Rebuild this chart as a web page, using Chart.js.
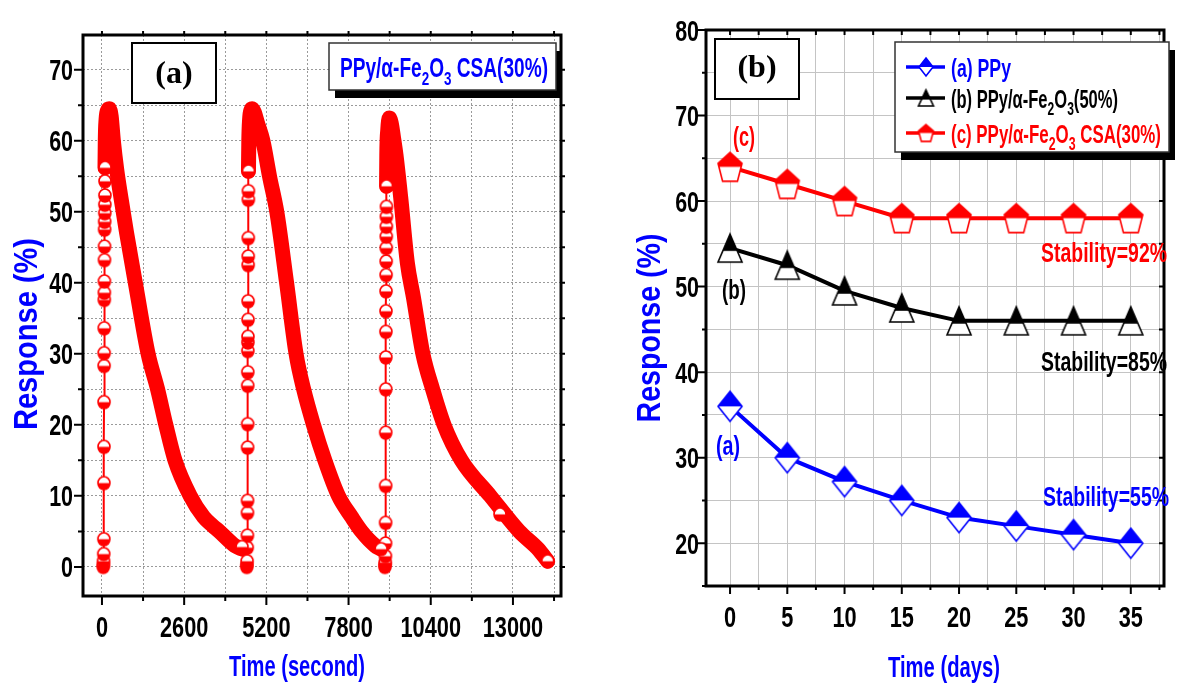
<!DOCTYPE html>
<html>
<head>
<meta charset="utf-8">
<script src="https://cdn.jsdelivr.net/npm/chart.js@4.4.0/dist/chart.umd.min.js"></script>
<style>
  html, body { margin: 0; padding: 0; background: #fff; }
  #wrap { position: relative; width: 1180px; height: 683px; }
  .panel { position: absolute; top: 0; width: 590px; height: 683px; }
</style>
</head>
<body>
<div id="wrap">
  <div class="panel" style="left:0"><canvas id="chartA"></canvas></div>
  <div class="panel" style="left:590px"><canvas id="chartB"></canvas></div>
</div>
<script>
// ---- panel (a): response vs time (second), three cycles ----
// rising edge of each cycle (single markers on a thin line)
const riseTime1 = [40, 45, 50, 55, 60, 62, 64, 66, 68, 70, 72, 74, 76, 78, 80, 82, 84, 86, 88, 90, 92, 94, 96];
const riseResp1 = [0, 0.3, 0.8, 1.8, 3.9, 11.8, 16.9, 23.2, 28.3, 30.1, 33.6, 37.6, 38.6, 40.2, 43.2, 45.1, 47.5, 48.6, 49.8, 51.0, 52.3, 54.3, 56.2];
const riseTime2 = [4580, 4585, 4590, 4595, 4600, 4602, 4604, 4606, 4608, 4610, 4612, 4614, 4616, 4618, 4620, 4622, 4624, 4626, 4628, 4630, 4632, 4634];
const riseResp2 = [0, 0.3, 0.8, 2.7, 4.4, 7.6, 9.3, 16.8, 20.1, 25.5, 27.4, 30.4, 31.6, 32.4, 34.8, 37.4, 42.5, 43.7, 46.3, 51.7, 52.9, 55.7];
const riseTime3 = [8950, 8955, 8960, 8965, 8970, 8972, 8974, 8976, 8978, 8980, 8982, 8984, 8986, 8988, 8990, 8992, 8994, 8996, 8998, 9000, 9002];
const riseResp3 = [0, 0.3, 0.6, 1.5, 3.3, 6.2, 11.4, 18.9, 25.0, 29.5, 33.1, 36.0, 38.8, 41.1, 43.0, 44.9, 46.5, 47.9, 49.3, 50.7, 53.6];

// peak + recovery of each cycle (dense points, drawn as a thick band)
const decayTime1 = [96, 105, 130, 180, 231, 290, 360, 465, 600, 780, 1075, 1460, 1760, 2020, 2310, 2790, 3220, 3500, 3710, 4200, 4430];
const decayResp1 = [56.2, 60, 63, 64.3, 64.5, 63.5, 60, 56, 52, 47, 39.5, 30, 25, 20, 15, 10, 7, 5.8, 5, 3, 2.5];
const decayTime2 = [4634, 4645, 4670, 4710, 4750, 4820, 4920, 5090, 5300, 5530, 5840, 6140, 6380, 6690, 7050, 7480, 7900, 8210, 8640, 8830];
const decayResp2 = [55.7, 60, 63, 64.3, 64.5, 64, 62.5, 60, 55, 50, 40, 30, 25, 20, 15, 10, 7, 5, 3, 2.5];
const decayTime3 = [9002, 9010, 9040, 9090, 9150, 9220, 9300, 9450, 9660, 9850, 10150, 10460, 10820, 11370, 12280, 13200, 13800, 14100];
const decayResp3 = [53.6, 58, 61.5, 63.2, 62.5, 60.5, 58, 52, 42.8, 38, 30, 25, 20, 15, 10, 5, 2.5, 0.8];

// single markers that stand out of the band
const extraTime = [4430, 8830, 12590, 14100];
const extraResp = [2.8, 2.5, 7.4, 0.8];

// axis ticks of panel (a): all tick positions, and the ones that carry a label
const timeTicksA = [0, 1300, 2600, 3900, 5200, 6500, 7800, 9100, 10400, 11700, 13000, 14300];
const timeLabelsA = [0, 2600, 5200, 7800, 10400, 13000];
const respTicksA = [0, 5, 10, 15, 20, 25, 30, 35, 40, 45, 50, 55, 60, 65, 70];
const respLabelsA = [0, 10, 20, 30, 40, 50, 60, 70];

// ---- panel (b): response vs time (days) ----
const days = [0, 5, 10, 15, 20, 25, 30, 35];
const ppy = [36, 30, 27.2, 25, 23, 22, 21, 20];
const ppyFe50 = [54.5, 52.5, 49.5, 47.5, 46, 46, 46, 46];
const ppyFeCsa30 = [64, 62, 60, 58, 58, 58, 58, 58];

const dayTicks = [0, 2.5, 5, 7.5, 10, 12.5, 15, 17.5, 20, 22.5, 25, 27.5, 30, 32.5, 35, 37.5];
const dayLabels = [0, 5, 10, 15, 20, 25, 30, 35];
const respTicksB = [15, 20, 25, 30, 35, 40, 45, 50, 55, 60, 65, 70, 75, 80];
const respLabelsB = [20, 30, 40, 50, 60, 70, 80];

const SANS = "'Liberation Sans', Arial, sans-serif";
const SERIF = "'Liberation Serif', 'Times New Roman', serif";
const RED = '#ff0000', BLUE = '#0000ff';

function pts(xs, ys) {
  return xs.map((x, i) => ({ x: x, y: ys[i] }));
}

function setTicks(values) {
  return s => { s.ticks = values.map(v => ({ value: v })); };
}

// half filled marker images like Origin's "half" symbols
function marker(shape, color, w, h, fillFrom, fillTo) {
  const c = document.createElement('canvas');
  c.width = w + 4;
  c.height = h + 4;
  const g = c.getContext('2d');
  g.translate(2, 2);
  const p = new Path2D();
  if (shape === 'diamond') {
    p.moveTo(w / 2, 0); p.lineTo(w, h / 2); p.lineTo(w / 2, h); p.lineTo(0, h / 2); p.closePath();
  } else if (shape === 'triangle') {
    p.moveTo(w / 2, 0); p.lineTo(w, h); p.lineTo(0, h); p.closePath();
  } else if (shape === 'pentagon') {
    for (let k = 0; k < 5; k++) {
      const a = -Math.PI / 2 + k * 2 * Math.PI / 5;
      const px = w / 2 + Math.cos(a) * w / 2 / Math.cos(Math.PI / 10);
      const py = h * 0.55 + Math.sin(a) * h * 0.55;
      if (k === 0) p.moveTo(px, py); else p.lineTo(px, py);
    }
    p.closePath();
  } else {
    p.ellipse(w / 2, h / 2, w / 2, h / 2, 0, 0, Math.PI * 2);
  }
  g.fillStyle = '#fff';
  g.fill(p);
  g.save();
  g.clip(p);
  g.fillStyle = color;
  g.fillRect(0, h * fillFrom, w, h * (fillTo - fillFrom));
  g.restore();
  g.lineWidth = 1.6;
  g.strokeStyle = color;
  g.stroke(p);
  return c;
}

const dotA = marker('circle', RED, 12, 13, 0.5, 1);
const mkDiamond = marker('diamond', BLUE, 24, 30, 0, 0.5);
const mkTriangle = marker('triangle', '#000', 24, 28, 0, 0.6);
const mkPentagon = marker('pentagon', RED, 24, 29, 0, 0.5);
const lgDiamond = marker('diamond', BLUE, 14, 18, 0, 0.5);
const lgTriangle = marker('triangle', '#000', 15, 16, 0, 0.6);
const lgPentagon = marker('pentagon', RED, 15, 17, 0, 0.5);

// text with optional subscripts, squeezed horizontally (Origin style narrow text)
function drawText(ctx, parts, x, y, o) {
  const size = o.size || 26;
  const fam = o.family || SANS;
  const main = 'bold ' + size + 'px ' + fam;
  const sub = 'bold ' + Math.round(size * 0.72) + 'px ' + fam;
  ctx.save();
  let total = 0;
  const items = parts.map(p => {
    const isSub = Array.isArray(p);
    const t = isSub ? p[0] : p;
    ctx.font = isSub ? sub : main;
    const w = ctx.measureText(t).width;
    total += w;
    return { t, isSub, w };
  });
  const sx = o.width ? o.width / total : (o.sx || 1);
  ctx.translate(x, y);
  if (o.rotate) ctx.rotate(o.rotate);
  ctx.scale(sx, 1);
  let cx = o.align === 'right' ? -total : o.align === 'center' ? -total / 2 : 0;
  ctx.fillStyle = o.color || '#000';
  ctx.textBaseline = 'alphabetic';
  ctx.textAlign = 'left';
  items.forEach(it => {
    ctx.font = it.isSub ? sub : main;
    ctx.fillText(it.t, cx, it.isSub ? size * 0.3 : 0);
    cx += it.w;
  });
  ctx.restore();
}

function box(ctx, x, y, w, h, shadow, lw) {
  ctx.save();
  if (shadow) {
    ctx.fillStyle = '#000';
    ctx.fillRect(x + 6, y + 8, w, h);
  }
  ctx.fillStyle = '#fff';
  ctx.fillRect(x, y, w, h);
  ctx.lineWidth = lw;
  ctx.strokeStyle = shadow ? '#333' : '#000';
  ctx.strokeRect(x, y, w, h);
  ctx.restore();
}

// frame round the plot, long/short tick marks and tick labels, all from the chart's scales
function frameAndTicks(chart, o) {
  const { ctx, chartArea: a } = chart;
  const xs = chart.scales.x, ys = chart.scales.y;
  ctx.save();
  ctx.strokeStyle = '#000';
  ctx.lineWidth = 2;
  ctx.beginPath();
  xs.ticks.forEach(t => {
    const p = xs.getPixelForValue(t.value);
    ctx.moveTo(p, a.bottom); ctx.lineTo(p, a.bottom + (o.xLabels.includes(t.value) ? o.major : o.minor));
    ctx.moveTo(p, a.top); ctx.lineTo(p, a.top + o.dir * o.small);
  });
  ys.ticks.forEach(t => {
    const p = ys.getPixelForValue(t.value);
    ctx.moveTo(a.left, p); ctx.lineTo(a.left - (o.yLabels.includes(t.value) ? o.major : o.minor), p);
    ctx.moveTo(a.right, p); ctx.lineTo(a.right - o.dir * o.small, p);
  });
  ctx.stroke();
  ctx.lineWidth = 3;
  ctx.strokeRect(a.left, a.top, a.right - a.left, a.bottom - a.top);
  ctx.restore();

  o.xLabels.forEach(v => {
    drawText(ctx, [String(v)], xs.getPixelForValue(v), a.bottom + 41, { size: 29, sx: 0.75, align: 'center' });
  });
  o.yLabels.forEach(v => {
    drawText(ctx, [String(v)], a.left - o.yGap, ys.getPixelForValue(v) + 10.5, { size: 29, sx: 0.74, align: 'right' });
  });
}

// ---------- chart (a) ----------
const bandStyle = { borderColor: RED, borderWidth: 15, borderCapStyle: 'round', borderJoinStyle: 'round', pointRadius: 0, cubicInterpolationMode: 'monotone' };
const riseStyle = { borderColor: RED, borderWidth: 2, pointStyle: dotA, pointRadius: 6, showLine: true };

new Chart(document.getElementById('chartA'), {
  type: 'line',
  data: {
    datasets: [
      Object.assign({}, riseStyle, { data: pts(extraTime, extraResp), showLine: false }),
      Object.assign({ data: pts(riseTime1, riseResp1) }, riseStyle),
      Object.assign({ data: pts(riseTime2, riseResp2) }, riseStyle),
      Object.assign({ data: pts(riseTime3, riseResp3) }, riseStyle),
      Object.assign({ data: pts(decayTime1, decayResp1) }, bandStyle),
      Object.assign({ data: pts(decayTime2, decayResp2) }, bandStyle),
      Object.assign({ data: pts(decayTime3, decayResp3) }, bandStyle)
    ]
  },
  options: {
    responsive: true,
    maintainAspectRatio: false,
    animation: false,
    devicePixelRatio: 1,
    layout: { padding: { top: 35, right: 29, bottom: 87, left: 83 } },
    plugins: { legend: { display: false }, tooltip: { enabled: false } },
    scales: {
      x: {
        type: 'linear', min: -600, max: 14520,
        afterBuildTicks: setTicks(timeTicksA),
        ticks: { display: false },
        grid: { color: '#9a9a9a', lineWidth: 1, drawTicks: false },
        border: { display: false, dash: [2, 2] }
      },
      y: {
        type: 'linear', min: -4.1, max: 74.9,
        afterBuildTicks: setTicks(respTicksA),
        ticks: { display: false },
        grid: { color: '#9a9a9a', lineWidth: 1, drawTicks: false },
        border: { display: false, dash: [2, 2] }
      }
    }
  },
  plugins: [{
    id: 'decorA',
    afterDraw(chart) {
      const ctx = chart.ctx;
      frameAndTicks(chart, { major: 9, minor: 5, small: 4, dir: -1, yGap: 10, xLabels: timeLabelsA, yLabels: respLabelsA });
      box(ctx, 132, 43, 84, 60, false, 2);
      drawText(ctx, ['(a)'], 174, 83, { size: 32, family: SERIF, align: 'center' });
      box(ctx, 329, 43, 227, 47, true, 1.5);
      drawText(ctx, ['PPy/\u03b1-Fe', ['2'], 'O', ['3'], ' CSA(30%)'], 340, 77, { size: 27, color: BLUE, width: 208 });
      drawText(ctx, ['Response (%)'], 37, 334, { size: 34, color: BLUE, width: 192, rotate: -Math.PI / 2, align: 'center' });
      drawText(ctx, ['Time (second)'], 297, 676, { size: 30, color: BLUE, width: 136, align: 'center' });
    }
  }]
});

// ---------- chart (b) ----------
const lineB = { borderWidth: 4, pointRadius: 12, showLine: true };

new Chart(document.getElementById('chartB'), {
  type: 'line',
  data: {
    datasets: [
      Object.assign({ data: pts(days, ppy), borderColor: BLUE, pointStyle: mkDiamond }, lineB),
      Object.assign({ data: pts(days, ppyFe50), borderColor: '#000', pointStyle: mkTriangle }, lineB),
      Object.assign({ data: pts(days, ppyFeCsa30), borderColor: RED, pointStyle: mkPentagon }, lineB)
    ]
  },
  options: {
    responsive: true,
    maintainAspectRatio: false,
    animation: false,
    devicePixelRatio: 1,
    layout: { padding: { top: 30, right: 2, bottom: 97, left: 116 } },
    plugins: { legend: { display: false }, tooltip: { enabled: false } },
    scales: {
      x: {
        type: 'linear', min: -2.1, max: 37.9,
        afterBuildTicks: setTicks(dayTicks),
        ticks: { display: false },
        grid: { color: '#c4c4c4', lineWidth: 1, drawTicks: false },
        border: { display: false }
      },
      y: {
        type: 'linear', min: 15, max: 80,
        afterBuildTicks: setTicks(respTicksB),
        ticks: { display: false },
        grid: { color: '#c4c4c4', lineWidth: 1, drawTicks: false },
        border: { display: false }
      }
    }
  },
  plugins: [{
    id: 'decorB',
    afterDraw(chart) {
      const ctx = chart.ctx;
      frameAndTicks(chart, { major: 8, minor: 4, small: 5, dir: 1, yGap: 7, xLabels: dayLabels, yLabels: respLabelsB });
      box(ctx, 125, 39, 84, 60, false, 2);
      drawText(ctx, ['(b)'], 167, 77, { size: 32, family: SERIF, align: 'center' });

      // legend
      box(ctx, 305, 42, 274, 110, true, 1.5);
      const rows = [
        { y: 67, color: BLUE, img: lgDiamond, parts: ['(a) PPy'], w: 60 },
        { y: 98, color: '#000', img: lgTriangle, parts: ['(b) PPy/\u03b1-Fe', ['2'], 'O', ['3'], '(50%)'], w: 167 },
        { y: 133, color: RED, img: lgPentagon, parts: ['(c) PPy/\u03b1-Fe', ['2'], 'O', ['3'], ' CSA(30%)'], w: 210 }
      ];
      rows.forEach(r => {
        ctx.save();
        ctx.strokeStyle = r.color;
        ctx.lineWidth = 3.5;
        ctx.beginPath();
        ctx.moveTo(316, r.y); ctx.lineTo(355, r.y);
        ctx.stroke();
        ctx.drawImage(r.img, 336 - r.img.width / 2, r.y - r.img.height / 2);
        ctx.restore();
        drawText(ctx, r.parts, 361, r.y + 9.5, { size: 26, color: r.color, width: r.w });
      });

      drawText(ctx, ['(c)'], 154, 146, { size: 27, color: RED, width: 22, align: 'center' });
      drawText(ctx, ['(b)'], 144, 299, { size: 27, color: '#000', width: 24, align: 'center' });
      drawText(ctx, ['(a)'], 138, 455, { size: 27, color: BLUE, width: 24, align: 'center' });
      drawText(ctx, ['Stability=92%'], 577, 262, { size: 27, color: RED, width: 126, align: 'right' });
      drawText(ctx, ['Stability=85%'], 577, 371, { size: 27, color: '#000', width: 126, align: 'right' });
      drawText(ctx, ['Stability=55%'], 579, 506, { size: 27, color: BLUE, width: 126, align: 'right' });

      drawText(ctx, ['Response (%)'], 70, 328, { size: 34, color: BLUE, width: 189, rotate: -Math.PI / 2, align: 'center' });
      drawText(ctx, ['Time (days)'], 354, 677, { size: 30, color: BLUE, width: 112, align: 'center' });
    }
  }]
});
</script>
</body>
</html>
